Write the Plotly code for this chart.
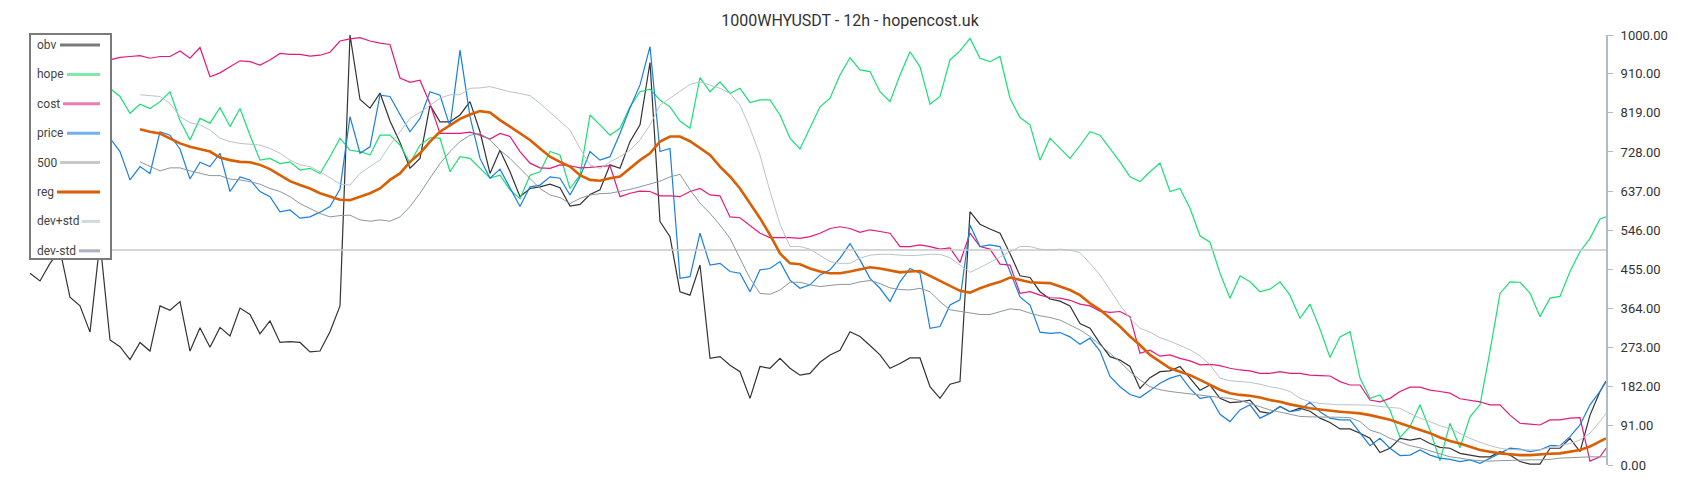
import plotly.graph_objects as go

# one sample every ~10px of the original chart; last entry is the final candle
idx = list(range(158)) + [157.6]

obv = [446, 428, 469, 500, 390, 370, 309, 520, 291, 275, 245, 285, 265, 370, 360, 380, 265, 319, 274,
       320, 300, 365, 350, 305, 335, 285, 287, 285, 263, 265, 310, 370, 1000, 850, 830, 865, 800, 750,
       690, 713, 837, 798, 798, 814, 845, 775, 678, 732, 682, 624, 643, 647, 653, 645, 602, 606, 629,
       640, 698, 690, 752, 791, 936, 566, 531, 403, 395, 465, 248, 252, 232, 217, 155, 229, 225, 248,
       225, 209, 213, 239, 256, 267, 310, 299, 278, 256, 225, 236, 249, 249, 182, 155, 188, 194, 589,
       560, 549, 539, 492, 440, 436, 403, 386, 381, 370, 329, 318, 283, 252, 244, 229, 178, 203, 217,
       219, 229, 202, 174, 186, 155, 145, 147, 151, 124, 120, 136, 124, 132, 125, 109, 99, 84, 84,
       74, 62, 29, 39, 62, 58, 62, 50, 41, 39, 27, 23, 19, 19, 31, 23, 8, 2, 2, 39, 39, 62, 31, 116, 171,
       195]

hope = [855, 870, 845, 880, 865, 850, 875, 880,
        876, 857, 818, 839, 829, 845, 868, 801, 756, 806, 795,
        831, 787, 829, 767, 709, 713, 701, 705, 686, 690, 678, 717, 760, 732, 729, 721, 767, 767, 744,
        702, 744, 761, 760, 682, 717, 713, 690, 667, 674, 640, 619, 674, 682, 729, 721, 643, 674, 814,
        791, 767, 783, 833, 868, 874, 849, 833, 800, 783, 901, 868, 891, 864, 876, 843, 849, 849, 814,
        760, 735, 783, 833, 853, 907, 947, 919, 915, 868, 845, 907, 961, 926, 839, 857, 942, 963, 992,
        946, 938, 950, 853, 808, 791, 709, 760, 736, 713, 743, 775, 767, 735, 705, 670, 659, 682, 702,
        636, 643, 597, 533, 518, 446, 388, 440, 426, 403, 409, 426, 395, 341, 374, 316, 250, 298, 310,
        202, 155, 163, 128, 64, 89, 140, 81, 10, 97, 40, 112, 140, 265, 399, 426, 425, 400, 345, 388,
        392, 450, 496, 527, 572,
        577]

cost = [938, 944, 936, 950, 945, 948, 940, 946,
        942, 948, 950, 952, 946, 950, 950, 963, 946, 971, 903,
        912, 926, 940, 938, 930, 942, 957, 955, 955, 951, 953, 960, 986, 991, 994, 986, 981, 978, 900,
        890, 895, 840, 771, 771, 771, 774, 767, 758, 771, 764, 729, 702, 691, 690, 698, 696, 691, 692,
        694, 696, 624, 632, 637, 636, 626, 626, 624, 636, 643, 628, 626, 577, 575, 558, 539, 529, 529,
        529, 527, 531, 539, 550, 554, 550, 541, 547, 543, 539, 508, 508, 512, 508, 502, 505, 471, 539,
        508, 502, 467, 465, 399, 403, 395, 389, 388, 383, 374, 370, 358, 355, 357, 345, 260, 267, 253,
        256, 248, 242, 233, 234, 231, 225, 221, 219, 213, 213, 217, 213, 213, 209, 208, 207, 194, 186,
        186, 151, 147, 155, 171, 181, 181, 174, 171, 167, 154, 151, 147, 140, 140, 116, 97, 95, 93, 105,
        105, 109, 110, 9, 19,
        39]

price = [755, 745, 770, 735, 760, 740, 770, 765,
         760, 729, 663, 694, 678, 775, 767, 735, 665, 704, 694,
         725, 636, 670, 663, 636, 624, 589, 593, 574, 577, 588, 601, 642, 810, 725, 740, 860, 857, 815,
         775, 806, 868, 860, 787, 965, 810, 713, 667, 688, 643, 601, 647, 651, 670, 667, 628, 670, 729,
         709, 717, 771, 830, 884, 973, 729, 736, 434, 438, 539, 465, 469, 450, 446, 403, 454, 457, 473,
         430, 411, 419, 442, 454, 481, 515, 477, 434, 411, 380, 426, 457, 446, 318, 322, 372, 384, 558,
         508, 512, 508, 450, 391, 372, 309, 306, 308, 298, 281, 295, 265, 206, 182, 164, 157, 173, 190,
         202, 209, 178, 155, 159, 118, 101, 128, 140, 109, 120, 136, 124, 128, 146, 124, 109, 105, 105,
         74, 45, 62, 39, 22, 23, 35, 23, 16, 13, 8, 12, 4, 16, 27, 39, 37, 31, 35, 45, 45, 66, 93, 140, 171,
         194]

reg = [None] * 11 + [
    781, 775, 771, 760, 748, 740, 734, 729,
    715, 709, 705, 704, 698, 688, 674, 660, 651, 643, 632, 624, 617, 616, 624, 632, 643, 663, 678,
    705, 725, 752, 775, 791, 805, 815, 823, 820, 802, 787, 771, 756, 736, 717, 705, 694, 674, 663,
    661, 667, 671, 690, 709, 725, 752, 764, 764, 753, 736, 721, 694, 671, 643, 609, 574, 535, 492,
    469, 467, 457, 450, 446, 446, 450, 455, 460, 457, 452, 448, 450, 451, 440, 428, 417, 405, 401,
    411, 419, 426, 436, 430, 425, 424, 423, 415, 407, 395, 376, 361, 341, 322, 299, 279, 256, 240,
    225, 217, 209, 198, 186, 175, 167, 163, 161, 157, 151, 147, 141, 136, 132, 129, 126, 124, 122,
    120, 116, 110, 105, 97, 89, 82, 74, 64, 56, 50, 43, 35, 31, 27, 25, 23, 23, 25, 26, 27, 31, 35, 43, 54,
    62]

dev_plus = [None] * 11 + [
    861, 859, 857, 841, 810, 796, 791, 779,
    760, 752, 748, 746, 744, 736, 725, 709, 698, 694, 682, 668, 653, 651, 678, 694, 709, 744, 775,
    806, 820, 837, 853, 861, 861, 876, 877, 880, 874, 868, 864, 859, 841, 820, 798, 779, 736, 698,
    690, 705, 717, 732, 756, 791, 837, 853, 868, 885, 891, 884, 876, 864, 837, 783, 721, 636, 560,
    508, 508, 502, 488, 473, 469, 469, 481, 488, 490, 490, 488, 487, 488, 490, 490, 482, 465, 448,
    459, 471, 483, 496, 508, 508, 502, 500, 502, 500, 494, 469, 442, 407, 372, 341, 318, 309, 296,
    288, 278, 268, 254, 233, 202, 196, 194, 192, 188, 182, 178, 171, 155, 147, 143, 141, 140, 140,
    139, 139, 136, 134, 132, 120, 109, 101, 91, 85, 74, 62, 53, 45, 39, 36, 35, 35, 35, 41, 45, 50, 58, 74, 101,
    120]

dev_minus = [None] * 11 + [
    705, 694, 684, 691, 691, 684, 678, 673,
    673, 665, 663, 659, 653, 643, 636, 624, 608, 597, 585, 577, 580, 581, 570, 567, 570, 567, 577,
    601, 632, 667, 701, 729, 752, 767, 771, 756, 732, 713, 690, 667, 643, 628, 622, 608, 620, 628,
    631, 632, 636, 641, 647, 653, 660, 670, 676, 640, 609, 585, 558, 527, 481, 434, 399, 397, 407,
    425, 425, 419, 415, 417, 420, 420, 426, 429, 422, 412, 408, 407, 411, 403, 380, 361, 357, 353,
    350, 350, 357, 363, 361, 353, 347, 343, 337, 326, 314, 299, 279, 260, 240, 217, 198, 182, 175,
    171, 168, 165, 162, 160, 157, 155, 150, 143, 136, 128, 123, 118, 113, 112, 112, 112, 111, 110,
    101, 81, 74, 62, 54, 45, 40, 33, 27, 19, 16, 12, 10, 9, 10, 11, 12, 12, 12, 13, 16, 17, 19, 19, 19,
    19]

level = 500
tick_vals = [0, 91, 182, 273, 364, 455, 546, 637, 728, 819, 910, 1000]

names = ["obv", "hope", "cost", "price", "500", "reg", "dev+std", "dev-std"]
line_colors = ["#333333", "#19df74", "#e5197a", "#1a7fe0", "#c8c8c8", "#d95f02", "#bcc3c8", "#8c979f"]
legend_colors = ["#7a7a7a", "#7fe9aa", "#f07ab2", "#74b0f0", "#c8c8c8", "#d95f02", "#d3d8dc", "#a9b3bb"]
widths = [1.2, 1.2, 1.2, 1.2, 1.6, 2.6, 1.0, 1.0]

# the page body adds an 8px margin, so the figure is a bit smaller than the window
OFF = 8
W, H = 1700 - OFF, 500 - OFF
L, R, T, B = 29 - OFF, 94, 35 - OFF, 35
pw, ph = W - L - R, H - T - B


def px(x):
    # window pixel -> paper fraction
    return (x - OFF - L) / pw


def py(y):
    return (H - B - (y - OFF)) / ph


series = [obv, hope, cost, price, [level] * len(idx), reg, dev_plus, dev_minus]

fig = go.Figure()
for name, ys, col, w in zip(names, series, line_colors, widths):
    fig.add_trace(go.Scatter(x=idx, y=ys, name=name, mode="lines",
                             line=dict(color=col, width=w), showlegend=False,
                             hoverinfo="skip"))

# legend box drawn by hand: label on the left, sample line on the right
shapes = [dict(type="rect", xref="paper", yref="paper", layer="above",
               x0=px(30), x1=px(111), y0=py(259), y1=py(34),
               fillcolor="white", line=dict(color="#7a7a7a", width=2))]
annotations = []
line_start = [60, 67, 63, 67, 60, 57, 82, 79]
for k, name in enumerate(names):
    yy = 45 + 29.4 * k
    annotations.append(dict(xref="paper", yref="paper", x=px(35), y=py(yy),
                            xanchor="left", yanchor="middle", showarrow=False,
                            text=name, font=dict(family="Roboto", size=12, color="#444")))
    shapes.append(dict(type="line", xref="paper", yref="paper", layer="above",
                       x0=px(line_start[k]), x1=px(100), y0=py(yy), y1=py(yy),
                       line=dict(color=legend_colors[k], width=3)))

fig.update_layout(
    width=W, height=H,
    margin=dict(l=L, r=R, t=T, b=B),
    paper_bgcolor="white", plot_bgcolor="white",
    title=dict(text="1000WHYUSDT - 12h - hopencost.uk", x=(850 - OFF) / W, xref="container",
               y=1 - (20 - OFF) / H, yref="container", yanchor="middle", xanchor="center",
               font=dict(family="Roboto", size=16, color="#333")),
    xaxis=dict(visible=False, range=[-0.1, 157.6]),
    yaxis=dict(side="right", range=[0, 1000], tickvals=tick_vals,
               ticktext=[f"{v:.2f}" for v in tick_vals],
               ticks="outside", ticklen=5, tickcolor="#b0bcc2", tickwidth=1,
               ticklabelstandoff=5,
               showline=True, linecolor="#b0bcc2", linewidth=2,
               showgrid=False, zeroline=False,
               tickfont=dict(family="Roboto", size=13, color="#333")),
    shapes=shapes,
    annotations=annotations,
    showlegend=False,
)

fig.write_html("out.html")
